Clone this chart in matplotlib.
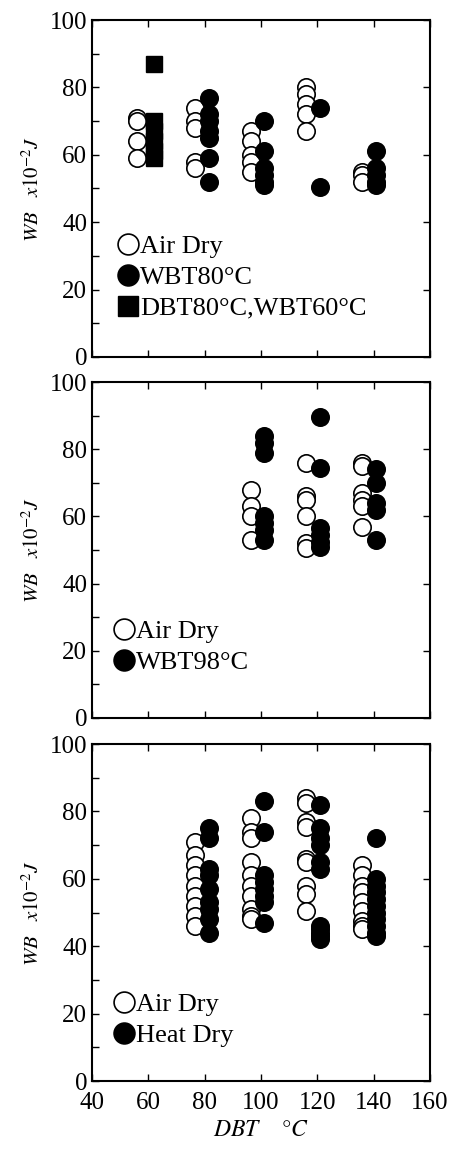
import matplotlib
matplotlib.use('Agg')
import matplotlib.pyplot as plt
from matplotlib.ticker import MultipleLocator

plt.rcParams['font.family'] = ['Liberation Serif', 'DejaVu Serif']
plt.rcParams['mathtext.fontset'] = 'stix'

# panel 1: air dry vs WBT80 vs DBT80/WBT60
p1_open_x = [56, 76.5, 96.5, 116, 136]
p1_open_y = [[71, 70, 64, 59], [74, 70, 68, 58, 56], [67, 64, 60, 58, 55],
             [80, 78, 75, 72, 67], [55, 54, 52]]
p1_fill_x = [81.5, 101, 121, 141]
p1_fill_y = [[77, 72, 70, 67, 65, 59, 52], [70, 61, 56, 54, 52, 51],
             [74, 50.5], [61, 56, 54, 52, 51]]
p1_sq_x = 62
p1_sq_y = [87, 70, 67, 64, 61, 59]

# panel 2: air dry vs WBT98
p2_open_x = [96.5, 116, 136]
p2_open_y = [[68, 63, 60, 53], [76, 66, 65, 60, 52, 50.5], [76, 75, 67, 65, 63, 57]]
p2_fill_x = [101, 121, 141]
p2_fill_y = [[84, 82, 79, 60, 58, 56, 53], [89.5, 74.5, 56.5, 54.5, 52.5, 51],
             [74, 70, 64, 62, 53]]

# panel 3: air dry vs heat dry
p3_open_x = [76.5, 96.5, 116, 136]
p3_open_y = [[71, 67, 64, 61, 58, 55, 52, 49, 46],
             [78, 74, 72, 65, 61, 58, 55, 51, 49, 48],
             [84, 82.5, 77, 75.5, 66, 65, 58, 55.5, 50.5],
             [64, 61, 58, 56, 53, 50.5, 47.5, 46, 45]]
p3_fill_x = [81.5, 101, 121, 141]
p3_fill_y = [[75, 72, 63, 61, 57, 53, 51, 48, 44],
             [83, 74, 61, 59, 57, 55, 53, 47],
             [82, 75, 72, 70, 65, 63, 46, 45, 44, 43, 42],
             [72, 60, 58, 56, 54, 52, 50, 48, 46, 44, 43]]

xticks = [40, 60, 80, 100, 120, 140, 160]
yticks = [0, 20, 40, 60, 80, 100]

fig = plt.figure(figsize=(4.53, 11.5), dpi=100)
left, width = 0.203, 0.746
boxes = [(0.6896, 0.293), (0.3757, 0.292), (0.060, 0.293)]
axes = [fig.add_axes([left, b, width, h]) for b, h in boxes]

ms = 12.5


def flat(xs, ys):
    px, py = [], []
    for x, col in zip(xs, ys):
        for v in col:
            px.append(x)
            py.append(v)
    return px, py


def draw_pts(ax, ox, oy, fx, fy, flabel):
    x, y = flat(ox, oy)
    ax.plot(x, y, 'o', ms=ms, mfc='white', mec='black', mew=1.2, ls='none', label='Air Dry')
    x, y = flat(fx, fy)
    ax.plot(x, y, 'o', ms=ms, mfc='black', mec='black', mew=1.2, ls='none', label=flabel)


draw_pts(axes[0], p1_open_x, p1_open_y, p1_fill_x, p1_fill_y, 'WBT80°C')
axes[0].plot([p1_sq_x] * len(p1_sq_y), p1_sq_y, 's', ms=12, mfc='black', mec='black',
             ls='none', label='DBT80°C,WBT60°C')
draw_pts(axes[1], p2_open_x, p2_open_y, p2_fill_x, p2_fill_y, 'WBT98°C')
draw_pts(axes[2], p3_open_x, p3_open_y, p3_fill_x, p3_fill_y, 'Heat Dry')

leg_pos = [(0.075, 0.11), (0.065, 0.13), (0.065, 0.10)]
for i, ax in enumerate(axes):
    ax.set_xlim(40, 160)
    ax.set_ylim(0, 100)
    ax.set_xticks(xticks)
    ax.set_yticks(yticks)
    ax.yaxis.set_minor_locator(MultipleLocator(10))
    ax.tick_params(axis='both', which='major', direction='in', length=5, width=1,
                   labelsize=18, top=True, right=True)
    ax.tick_params(axis='x', which='major', pad=8)
    ax.tick_params(axis='y', which='minor', direction='in', length=5, width=1, right=False)
    for s in ax.spines.values():
        s.set_linewidth(1.5)
    ax.set_ylabel(r'$\mathit{WB\ \ \ x10^{-2}J}$', fontsize=15, labelpad=4)
    if i < 2:
        ax.tick_params(axis='x', labelbottom=False)
    ax.legend(loc='lower left', bbox_to_anchor=leg_pos[i], frameon=False, fontsize=19,
              handlelength=0.8, handletextpad=0.05, labelspacing=0.28, markerscale=1.2,
              borderaxespad=0, borderpad=0)

axes[2].set_xlabel(r'$\mathit{DBT}$    $\mathit{°C}$', fontsize=17, labelpad=4)

fig.savefig('out.png', dpi=100)
